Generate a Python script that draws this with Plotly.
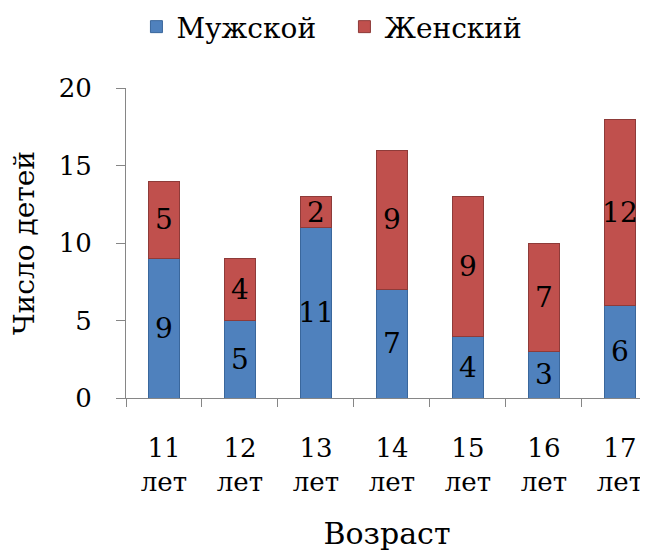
import plotly.graph_objects as go

categories = ["11<br>лет", "12<br>лет", "13<br>лет", "14<br>лет", "15<br>лет", "16<br>лет", "17<br>лет"]
male = [9, 5, 11, 7, 4, 3, 6]
female = [5, 4, 2, 9, 9, 7, 12]
y_ticks = [0, 5, 10, 15, 20]

FONT = "DejaVu Serif"
FS = 28
TFS = 26

fig = go.Figure()
fig.add_trace(go.Bar(
    x=categories, y=male, name="Мужской",
    marker=dict(color="#4F81BD", line=dict(color="#3A679C", width=1)),
    text=male, textposition="inside", insidetextanchor="middle", textangle=0,
    textfont=dict(family=FONT, size=FS, color="black"),
))
fig.add_trace(go.Bar(
    x=categories, y=female, name="Женский",
    marker=dict(color="#C0504D", line=dict(color="#8E3B39", width=1)),
    text=female, textposition="inside", insidetextanchor="middle", textangle=0,
    textfont=dict(family=FONT, size=FS, color="black"),
))

fig.update_layout(
    width=640, height=545,
    barmode="stack", bargap=0.59,
    plot_bgcolor="white", paper_bgcolor="white",
    font=dict(family=FONT, size=FS, color="black"),
    margin=dict(l=118, r=0, t=80, b=155, autoexpand=False),
    uniformtext=dict(mode="show", minsize=FS),
    showlegend=True,
    legend=dict(orientation="h", x=0.02, xanchor="left",
                y=1.197, yanchor="middle",
                font=dict(family=FONT, size=FS), traceorder="normal",
                itemwidth=30, entrywidth=163),
    xaxis=dict(
        range=[-0.5, 6.37], showline=True, linecolor="#868686", linewidth=1,
        ticks="outside", tickson="boundaries", ticklen=8, tickcolor="#868686",
        showgrid=False, ticklabelstandoff=27, automargin=False,
        title=dict(text="Возраст", standoff=26, font=dict(family=FONT, size=30)),
        tickfont=dict(family=FONT, size=TFS),
    ),
    yaxis=dict(
        range=[0, 20], tickvals=y_ticks, showline=True, linecolor="#868686", linewidth=1,
        ticks="outside", ticklen=9, tickcolor="#868686", showgrid=False, zeroline=False,
        ticklabelstandoff=19, automargin=False,
        title=dict(text="Число детей", standoff=16, font=dict(family=FONT, size=FS)),
        tickfont=dict(family=FONT, size=TFS),
    ),
)

fig.write_html("out.html")
